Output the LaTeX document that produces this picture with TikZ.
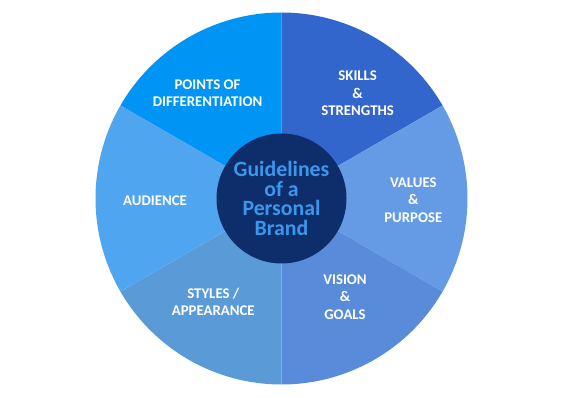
\documentclass[tikz,border=0pt]{standalone}
\usepackage{fontspec}
\setmainfont{Carlito}
\definecolor{secAzure}{RGB}{0,148,245}
\definecolor{secRoyal}{RGB}{51,102,204}
\definecolor{secSky}{RGB}{100,155,228}
\definecolor{secCorn}{RGB}{88,140,218}
\definecolor{secSteel}{RGB}{90,155,215}
\definecolor{secLight}{RGB}{80,165,240}
\definecolor{hubNavy}{RGB}{14,46,107}
\definecolor{hubText}{RGB}{60,150,235}
\begin{document}
\begin{tikzpicture}[
  x=1pt, y=1pt,
  lbl/.style={text=white, align=center, inner sep=0pt,
    font=\bfseries\fontsize{14.8}{17.6}\selectfont},
  hub/.style={circle, fill=hubNavy, minimum size=130pt, inner sep=0pt,
    text=hubText, align=center, font=\bfseries\fontsize{21.8}{19.5}\selectfont}
]
\useasboundingbox (0,0) rectangle (563,397);
\coordinate (c) at (281.5,198.5);
% wheel sectors
\foreach \a/\col in {90/secAzure, 30/secRoyal, -30/secSky, -90/secCorn, -150/secSteel, 150/secLight} {
  \fill[\col] (c) -- ++(\a:186) arc[start angle=\a, end angle=\a+60, radius=186] -- cycle;
}
% centre
\node[hub] (brand) at (c) {Guidelines\\of a\\Personal\\Brand};
% sector labels
\node[lbl] (points) at (207.5,304) {POINTS OF\\DIFFERENTIATION};
\node[lbl] (skills) at (357.7,303.5) {SKILLS\\\&\\STRENGTHS};
\node[lbl] (values) at (413.3,197) {VALUES\\\&\\PURPOSE};
\node[lbl] (vision) at (345,100) {VISION\\\&\\GOALS};
\node[lbl] (styles) at (213.3,95) {STYLES /\\APPEARANCE};
\node[lbl] (audience) at (155,196) {AUDIENCE};
\end{tikzpicture}
\end{document}
